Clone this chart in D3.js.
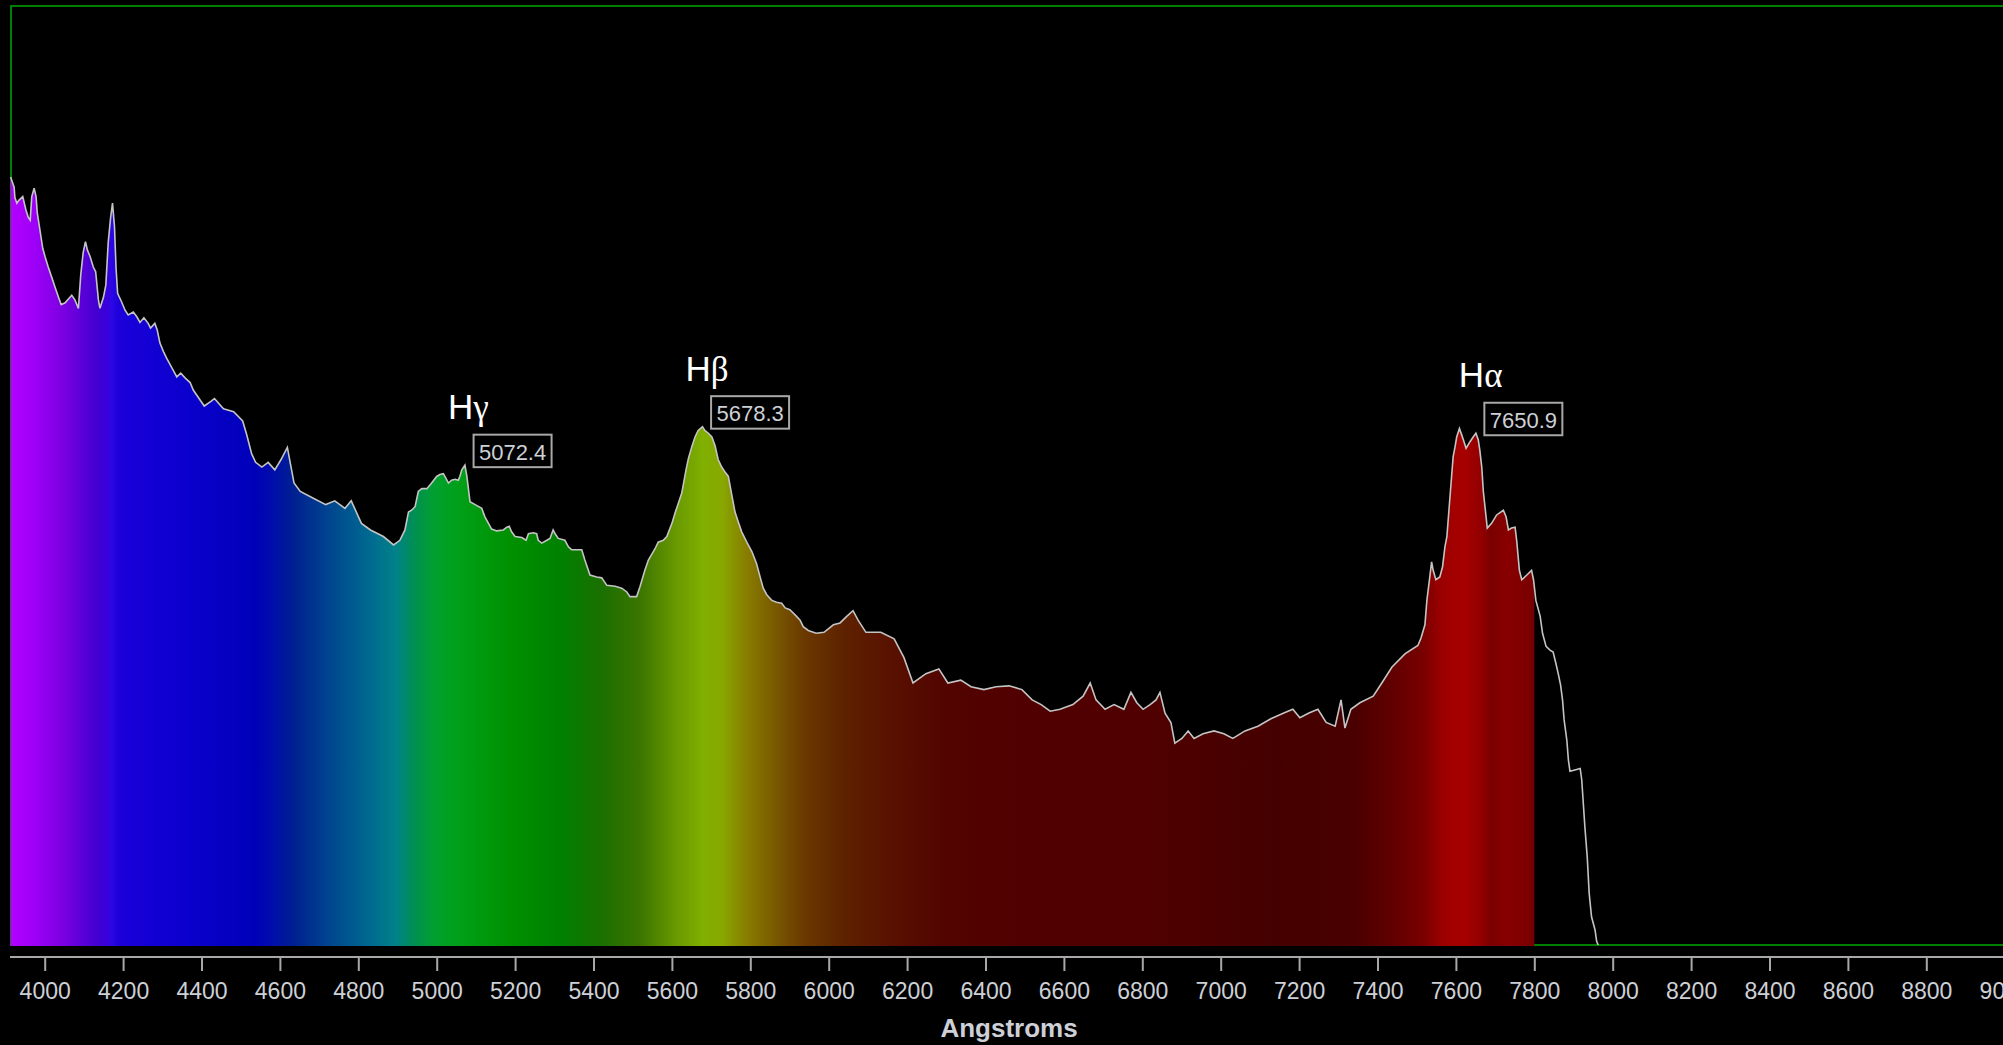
<!DOCTYPE html>
<html><head><meta charset="utf-8">
<script src="https://cdn.jsdelivr.net/npm/d3@7"></script>
<style>html,body{margin:0;padding:0;background:#000;overflow:hidden}</style>
</head><body><div id="chart"></div>
<script>
// ---- data (wavelength in Angstroms, relative intensity 0..100) ----
const wavelength = [3913,3922,3924,3929,3934,3944,3952,3958,3963,3967,3973,3978,3981,3988,3995,4001,4009,4018,4026,4035,4042,4052,4069,4077,4086,4092,4098,4104,4109,4116,4124,4130,4137,4141,4150,4156,4162,4168,4173,4178,4182,4186,4196,4205,4213,4226,4235,4243,4253,4264,4270,4281,4287,4294,4303,4311,4320,4328,4337,4347,4358,4371,4379,4392,4407,4424,4433,4456,4482,4505,4515,4528,4538,4554,4570,4587,4603,4619,4636,4652,4684,4717,4740,4766,4782,4808,4831,4864,4890,4906,4919,4928,4936,4945,4953,4962,4975,4987,5000,5008,5017,5021,5030,5038,5047,5055,5059,5064,5072,5077,5085,5098,5115,5123,5132,5140,5153,5170,5179,5185,5191,5200,5217,5228,5234,5246,5255,5259,5268,5281,5289,5297,5302,5310,5327,5336,5344,5370,5378,5391,5408,5421,5434,5455,5472,5485,5493,5510,5519,5531,5540,5557,5565,5578,5587,5600,5608,5616,5625,5629,5636,5642,5651,5659,5667,5678,5684,5693,5702,5710,5718,5727,5735,5744,5752,5761,5769,5778,5791,5804,5816,5825,5833,5842,5855,5867,5880,5889,5901,5918,5927,5935,5948,5968,5988,6012,6029,6046,6062,6075,6095,6133,6167,6192,6215,6248,6281,6304,6337,6363,6396,6427,6460,6493,6519,6542,6565,6590,6623,6649,6667,6682,6705,6728,6753,6771,6786,6802,6820,6835,6845,6858,6873,6883,6901,6917,6932,6955,6983,7008,7031,7062,7095,7128,7161,7184,7202,7225,7248,7269,7292,7307,7317,7332,7355,7389,7411,7437,7470,7503,7511,7521,7526,7534,7538,7542,7549,7559,7566,7572,7577,7583,7589,7593,7598,7602,7609,7615,7619,7626,7636,7644,7651,7657,7661,7666,7670,7677,7680,7691,7704,7721,7728,7734,7742,7751,7755,7762,7768,7781,7793,7798,7804,7815,7821,7830,7840,7848,7855,7861,7867,7872,7876,7883,7887,7891,7908,7917,7921,7925,7929,7935,7940,7946,7955,7959,7963];
const intensity = [81.8,80.7,79.6,79.0,79.3,79.7,78.3,77.5,77.2,79.7,80.6,79.7,78.0,76.1,74.2,73.3,72.2,71.1,70.1,69.0,68.2,68.4,69.2,68.7,67.8,71.4,73.7,74.9,74.0,73.3,72.2,71.7,68.7,67.8,69.0,70.3,74.8,77.4,79.0,76.5,72.1,69.4,68.5,67.6,67.1,67.4,66.9,66.3,66.8,66.2,65.7,66.2,65.5,64.1,63.2,62.5,61.8,61.2,60.5,60.9,60.4,59.9,59.1,58.3,57.4,57.9,58.2,57.1,56.8,55.8,54.4,52.3,51.4,50.9,51.4,50.6,51.7,53.0,49.2,48.3,47.6,46.9,47.3,46.5,47.3,44.9,44.2,43.5,42.6,43.1,44.2,46.1,46.3,46.7,48.3,48.6,48.6,49.2,49.9,50.1,50.2,49.9,49.2,49.5,49.6,49.5,49.9,50.6,51.1,49.9,47.2,46.9,46.5,45.6,44.9,44.3,44.1,44.2,44.5,44.6,44.0,43.5,43.4,43.1,43.8,43.9,43.8,43.1,42.8,43.1,43.3,44.2,43.8,43.3,43.1,42.4,42.1,42.1,41.0,39.4,39.2,39.1,38.3,38.2,38.0,37.6,37.1,37.1,38.2,39.9,41.0,42.2,42.9,43.1,43.5,44.9,46.0,47.0,48.1,49.0,50.6,51.8,53.1,54.1,54.8,55.2,54.8,54.5,54.1,53.2,51.7,50.9,50.4,49.9,48.1,46.1,45.1,44.0,42.9,41.9,40.6,39.2,38.0,37.3,36.7,36.5,36.4,35.9,35.7,35.0,34.6,33.9,33.5,33.2,33.3,34.1,34.3,35.0,35.6,34.6,33.3,33.3,32.6,30.6,27.9,28.9,29.4,27.9,28.2,27.5,27.2,27.5,27.6,27.2,26.1,25.6,24.9,25.1,25.6,26.5,27.9,26.1,25.1,25.6,25.1,26.9,25.8,25.1,25.6,26.1,26.9,24.7,23.7,21.5,22.0,22.8,22.0,22.5,22.8,22.5,22.0,22.8,23.3,24.1,24.7,25.1,24.2,24.7,25.1,23.7,23.3,26.1,23.1,25.1,25.8,26.5,27.9,29.6,31.0,31.9,32.7,34.1,36.7,39.4,40.8,39.9,38.9,39.2,40.3,42.4,43.5,46.7,49.9,52.0,53.1,54.1,55.0,54.3,53.8,52.9,53.6,54.1,54.5,53.8,52.7,50.9,48.3,45.6,44.4,44.9,45.8,46.3,45.6,44.2,44.4,44.5,43.1,39.9,38.9,39.4,39.9,38.9,36.7,35.0,33.2,31.8,31.4,31.2,30.0,28.9,27.7,26.1,24.0,21.8,19.7,18.5,18.7,18.8,17.6,15.1,12.6,9.4,5.5,3.0,1.6,0.4,0];

const tickValues = [4000,4200,4400,4600,4800,5000,5200,5400,5600,5800,6000,6200,6400,6600,6800,7000,7200,7400,7600,7800,8000,8200,8400,8600,8800,9000];

const peakWavelength = [5072.4, 5678.3, 7650.9];
const peakIntensity = [51.1, 55.2, 54.5];
const peakGreek = ["\u03b3", "\u03b2", "\u03b1"];

// spectral colour bands used for the fill
const bandWavelength = [3913,3983,4049,4098,4131,4160,4172,4185,4213,4376,4537,4588,4636,4733,4830,4896,4945,4993,5059,5190,5320,5417,5516,5613,5679,5727,5792,5857,5939,6037,6167,6297,6493,6820,7144,7340,7437,7519,7560,7618,7667,7690,7731,7800];
const bandColor = ["#b400ff","#9a00f5","#7a00e0","#5800d8","#4500d0","#3800dc","#2a08e4","#2000dc","#1800d8","#0a00cc","#0000b8","#0010a8","#002090","#004890","#006a90","#008288","#009050","#00a030","#00a018","#009000","#008000","#1a7000","#3a7400","#6a9a00","#80b000","#88a800","#887c00","#7a5c00","#6a3800","#5e2200","#581000","#520400","#500000","#500000","#440000","#4a0000","#600000","#7a0000","#9a0000","#a80000","#900000","#7a0000","#880000","#780000"];
const fillLimit = 7800;
const axisTitle = "Angstroms";

// ---- drawing ----
const W = 2003, H = 1045;
const svg = d3.select("#chart").append("svg")
  .attr("width", W).attr("height", H)
  .style("display", "block").style("background", "#000");

const x = d3.scaleLinear().domain([4000, 8800]).range([44.7, 1926.3]);
const y = d3.scaleLinear().domain([0, 100]).range([945, 6]);
const data = wavelength.map((w, i) => ({ w: w, v: intensity[i] }));

// plot frame
svg.append("rect")
  .attr("x", 11).attr("y", 6).attr("width", W + 40).attr("height", y(0) - 6)
  .attr("fill", "none").attr("stroke", "#008000").attr("stroke-width", 2);

const defs = svg.append("defs");
const w0 = bandWavelength[0], w1 = bandWavelength[bandWavelength.length - 1];
const grad = defs.append("linearGradient").attr("id", "spec")
  .attr("gradientUnits", "userSpaceOnUse")
  .attr("x1", x(w0)).attr("x2", x(w1)).attr("y1", 0).attr("y2", 0);
bandWavelength.forEach((w, i) => {
  grad.append("stop").attr("offset", (w - w0) / (w1 - w0)).attr("stop-color", bandColor[i]);
});
defs.append("clipPath").attr("id", "fillclip").append("rect")
  .attr("x", 0).attr("y", 0).attr("width", x(fillLimit)).attr("height", y(0) + 1);

const area = d3.area().x(d => x(d.w)).y0(y(0) + 1).y1(d => y(d.v));
svg.append("path").datum(data).attr("d", area)
  .attr("fill", "url(#spec)").attr("clip-path", "url(#fillclip)");

const line = d3.line().x(d => x(d.w)).y(d => y(d.v));
svg.append("path").datum(data).attr("d", line)
  .attr("fill", "none").attr("stroke", "#c4c4c4").attr("stroke-width", 1.6)
  .attr("stroke-linejoin", "miter");

// x axis
const axisY = 957;
svg.append("line").attr("x1", 10).attr("x2", W).attr("y1", axisY).attr("y2", axisY)
  .attr("stroke", "#a8a8a8").attr("stroke-width", 2);
const axis = d3.axisBottom(x).tickValues(tickValues).tickSize(14).tickPadding(12)
  .tickFormat(d3.format("d"));
const gA = svg.append("g").attr("transform", `translate(0,${axisY})`).call(axis);
gA.select(".domain").remove();
gA.selectAll(".tick line").attr("stroke", "#a8a8a8").attr("stroke-width", 2);
gA.selectAll(".tick text").attr("fill", "#cdd0d6")
  .attr("font-family", "'Liberation Sans', Arial, sans-serif").attr("font-size", 23);

svg.append("text").attr("x", 1009).attr("y", 1037).attr("text-anchor", "middle")
  .attr("font-family", "'Liberation Sans', Arial, sans-serif").attr("font-weight", "bold")
  .attr("font-size", 26).attr("fill", "#cdd0d6").text(axisTitle);

// peak annotations
peakWavelength.forEach((w, i) => {
  const px = x(w), py = y(peakIntensity[i]);
  const t = svg.append("text").attr("x", px - 17).attr("y", py - 46)
    .attr("fill", "#ffffff").attr("font-size", 35);
  t.append("tspan").attr("font-family", "'Liberation Sans', Arial, sans-serif").text("H");
  t.append("tspan").attr("font-family", "'Liberation Serif', 'Times New Roman', serif").text(peakGreek[i]);
  svg.append("rect").attr("x", px + 8.5).attr("y", py - 30.5).attr("width", 78).attr("height", 32.5)
    .attr("fill", "#000").attr("stroke", "#a8a8a8").attr("stroke-width", 2);
  svg.append("text").attr("x", px + 8.5 + 39).attr("y", py - 30.5 + 25).attr("text-anchor", "middle")
    .attr("font-family", "'Liberation Sans', Arial, sans-serif").attr("font-size", 22)
    .attr("fill", "#cdd0d6").text(w.toFixed(1));
});
</script>
</body></html>
